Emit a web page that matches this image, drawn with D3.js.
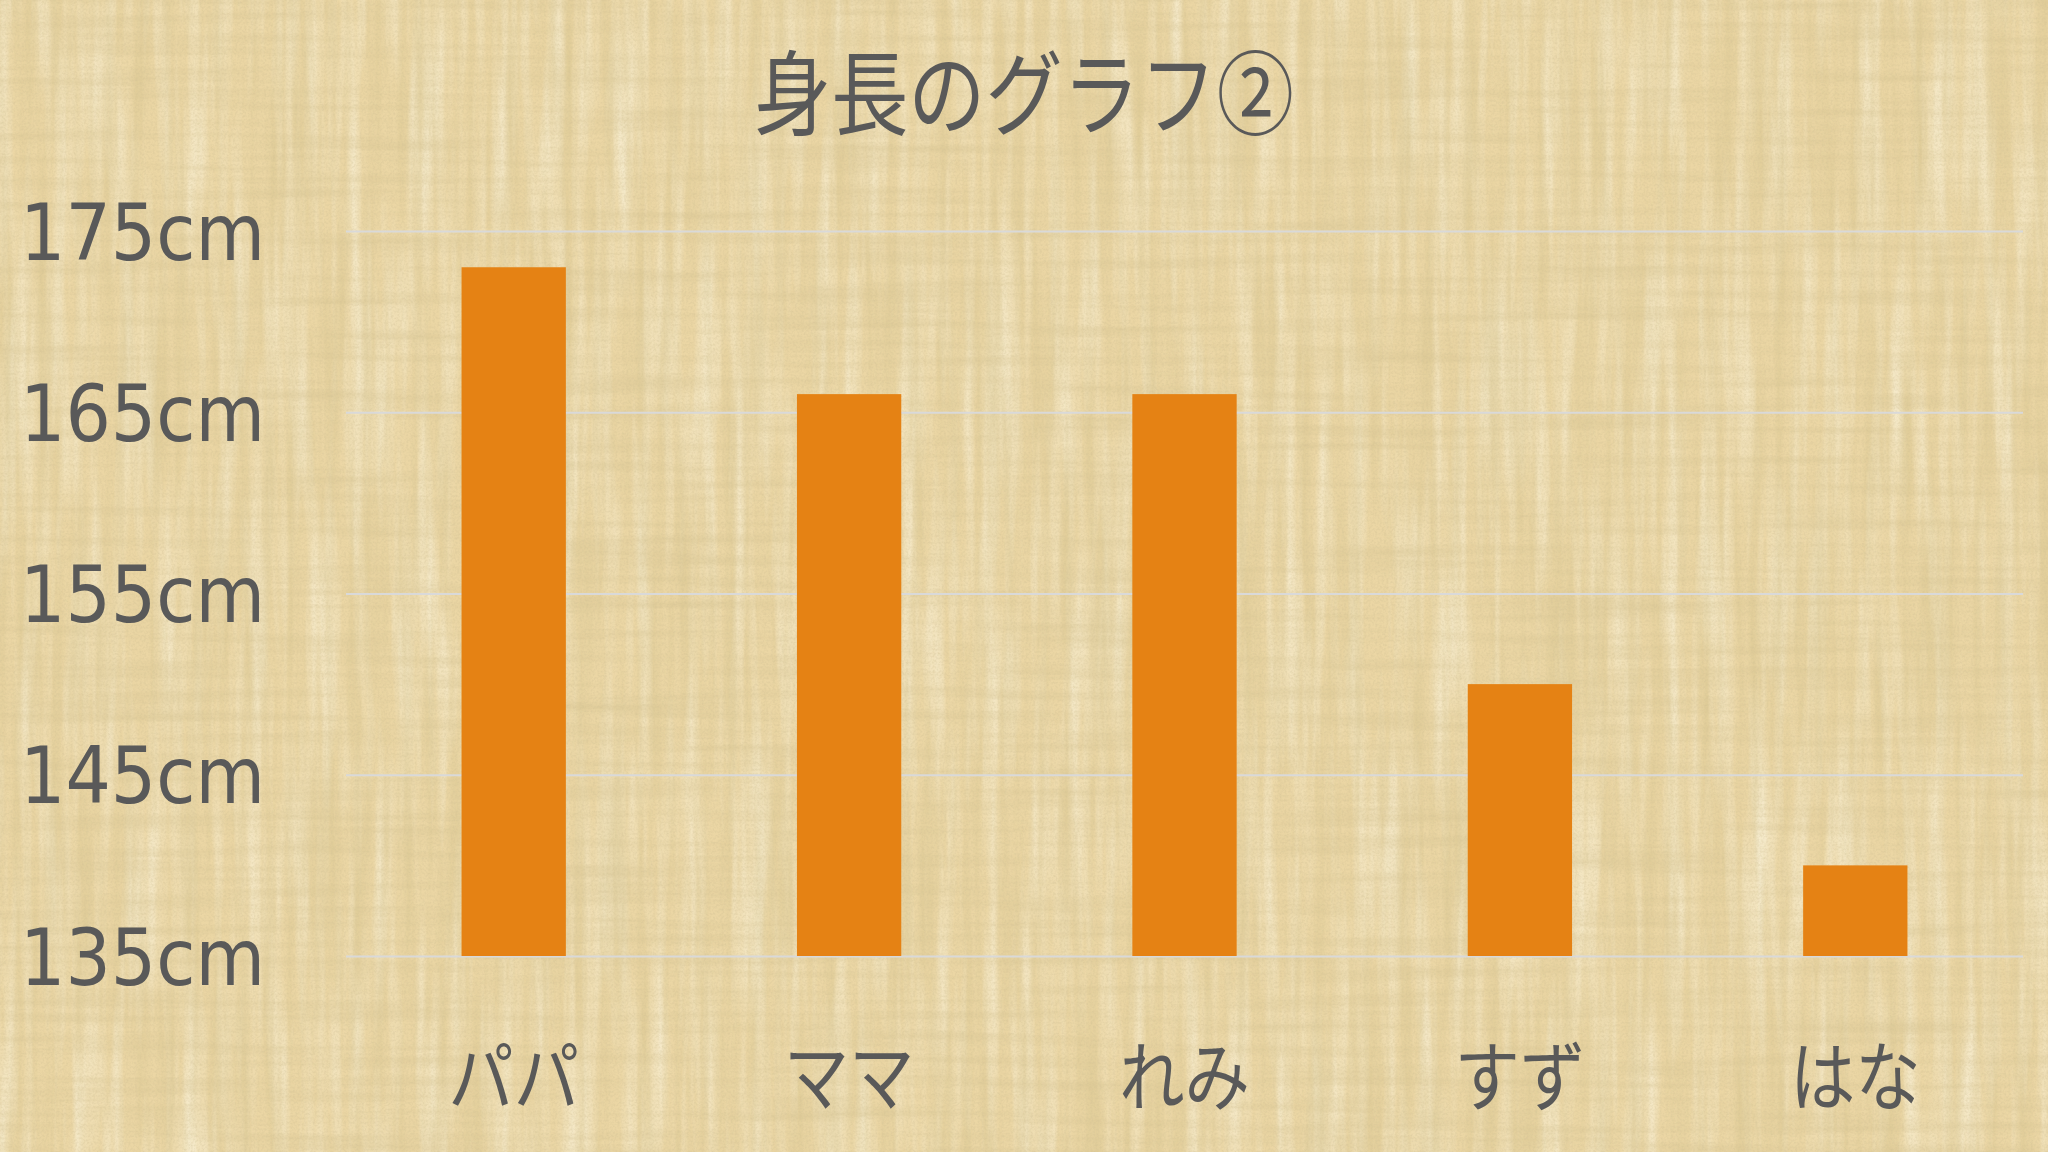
<!DOCTYPE html>
<html>
<head>
<meta charset="utf-8">
<script src="https://cdn.jsdelivr.net/npm/d3@7"></script>
<style>
  html, body { margin: 0; padding: 0; background: #E8D19C; }
  svg { display: block; }
</style>
</head>
<body>
<svg id="chart" width="2048" height="1152"></svg>
<script>
const title = "身長のグラフ②";
const categories = ["パパ", "ママ", "れみ", "すず", "はな"];
const heights = [173, 166, 166, 150, 140];
const yTicks = [135, 145, 155, 165, 175];
const yDomain = [135, 175];

const W = 2048, H = 1152;
const svg = d3.select("#chart");
const defs = svg.append("defs");

// papyrus-like texture
function grainFilter(id, fx, fy, seed, rgb, a, b, oct) {
  const f = defs.append("filter").attr("id", id)
    .attr("filterUnits", "userSpaceOnUse")
    .attr("x", 0).attr("y", 0).attr("width", W).attr("height", H);
  f.append("feTurbulence").attr("type", "fractalNoise")
    .attr("baseFrequency", fx + " " + fy).attr("numOctaves", oct || 3).attr("seed", seed);
  f.append("feColorMatrix").attr("type", "matrix")
    .attr("values", `0 0 0 0 ${rgb[0]}  0 0 0 0 ${rgb[1]}  0 0 0 0 ${rgb[2]}  ${a} 0 0 0 ${b}`);
}
grainFilter("vLight", 0.06, 0.004, 11, [0.99, 0.95, 0.80], 1.2, -0.48);
grainFilter("vDark", 0.08, 0.004, 3, [0.66, 0.54, 0.26], 0.9, -0.36, 4);
grainFilter("hDark", 0.004, 0.09, 7, [0.66, 0.54, 0.28], 0.8, -0.33, 4);
grainFilter("fine", 0.45, 0.45, 5, [0.60, 0.50, 0.28], 0.7, -0.27, 2);

const bg = svg.append("g");
bg.append("rect").attr("width", W).attr("height", H).attr("fill", "#EBD6A4");
bg.append("rect").attr("width", W).attr("height", H).attr("filter", "url(#vLight)");
bg.append("rect").attr("width", W).attr("height", H).attr("filter", "url(#vDark)");
bg.append("rect").attr("width", W).attr("height", H).attr("filter", "url(#hDark)");
bg.append("rect").attr("width", W).attr("height", H).attr("filter", "url(#fine)");

// scales
const x = d3.scaleBand().domain(categories).range([346, 2023])
  .paddingInner(0.689).paddingOuter(0.3445);
const y = d3.scaleLinear().domain(yDomain).range([956, 231]);

const textColor = "#595959";

// gridlines + y labels
const yAxis = d3.axisLeft(y).tickValues(yTicks)
  .tickSize(-(2023 - 346)).tickPadding(81)
  .tickFormat(d => d + "cm");
const gy = svg.append("g").attr("transform", "translate(346,0)").call(yAxis);
gy.select(".domain").remove();
gy.selectAll(".tick line").attr("stroke", "#D9D9D9").attr("stroke-width", 2);
gy.selectAll(".tick text")
  .attr("fill", textColor)
  .attr("font-family", "'DejaVu Sans', Verdana, sans-serif")
  .attr("font-size", 78)
  .attr("dy", "0.36em")
  .attr("textLength", 245)
  .attr("lengthAdjust", "spacingAndGlyphs");

// bars
svg.append("g").selectAll("rect").data(categories).join("rect")
  .attr("x", d => x(d))
  .attr("width", x.bandwidth())
  .attr("y", (d, i) => y(heights[i]))
  .attr("height", (d, i) => y(yDomain[0]) - y(heights[i]))
  .attr("fill", "#E58214");

// x labels
const xAxis = d3.axisBottom(x).tickSize(0).tickPadding(0);
const gx = svg.append("g").attr("transform", "translate(0,956)").call(xAxis);
gx.select(".domain").remove();
gx.selectAll(".tick text")
  .attr("fill", textColor)
  .attr("font-family", "'Noto Sans CJK JP', sans-serif")
  .attr("font-size", 76)
  .attr("y", 122)
  .attr("dy", "0.36em")
  .each(function() {
    const len = this.getComputedTextLength();
    d3.select(this).attr("textLength", len * 0.86).attr("lengthAdjust", "spacingAndGlyphs");
  });

// title
svg.append("text")
  .attr("x", W / 2).attr("y", 128)
  .attr("text-anchor", "middle")
  .attr("fill", textColor)
  .attr("font-family", "'Noto Sans CJK JP', sans-serif")
  .attr("font-size", 92)
  .attr("textLength", 540)
  .attr("lengthAdjust", "spacingAndGlyphs")
  .text(title);
</script>
</body>
</html>
